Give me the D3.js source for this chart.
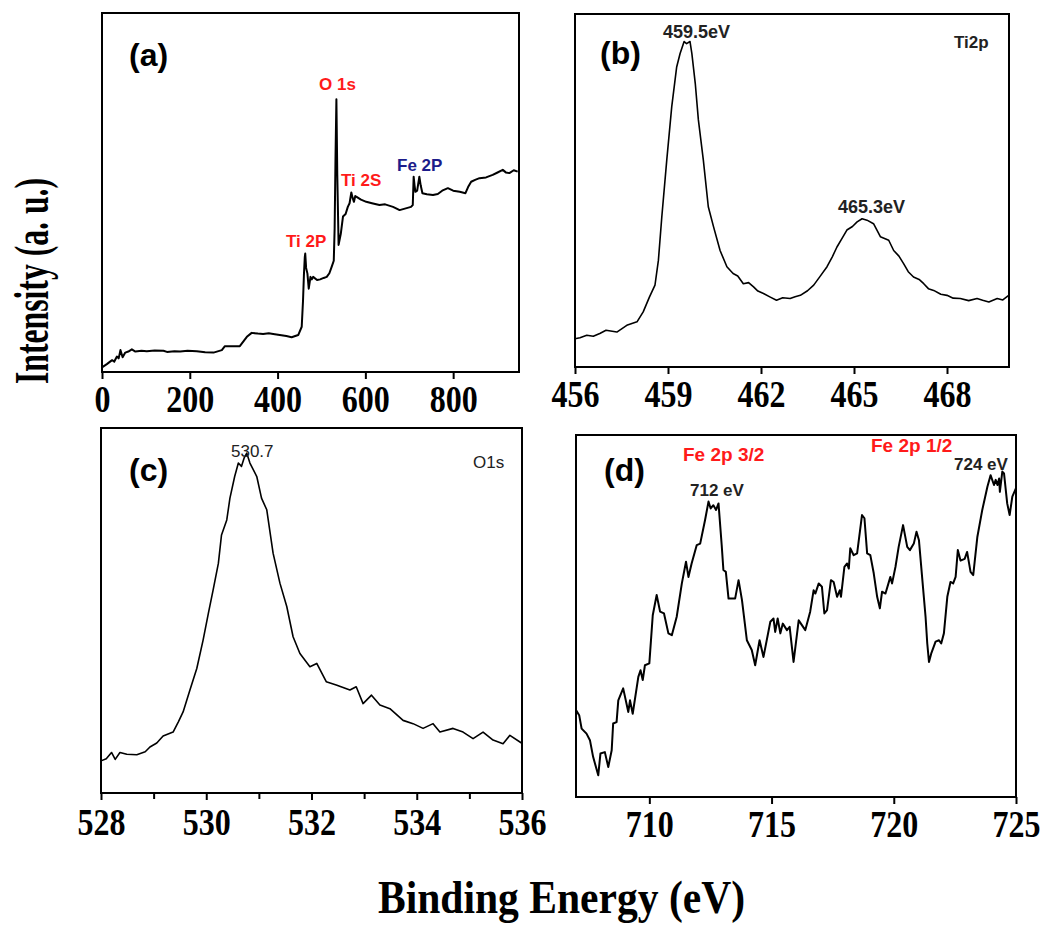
<!DOCTYPE html>
<html>
<head>
<meta charset="UTF-8">
<title>XPS spectra</title>
<script src="https://d3js.org/d3.v7.min.js"></script>
<style>
    body {margin: 0; background: white;}
    .frame {fill: none; stroke: black; stroke-width: 2;}
    .spec {fill: none; stroke: black; stroke-width: 1.8; stroke-linejoin: round;}
    .tick line {stroke: black; stroke-width: 2;}
    .domain {display: none;}
    .tick text {font-family: "Liberation Serif", "Times New Roman", serif; font-weight: bold; font-size: 37px; fill: black;}
    .big {font-family: "Liberation Serif", "Times New Roman", serif; font-weight: bold; fill: black;}
    .lab {font-family: "Liberation Sans", Arial, sans-serif; font-weight: bold;}
</style>
</head>
<body>
<div class="sh"></div>
<script>

    // (a) survey spectrum
    var surveyE = [0, 11, 23, 28, 34, 38, 42, 47, 53, 60, 68, 76, 90, 102, 120, 140, 148, 165, 178, 195, 216, 235, 254, 273, 280, 300, 314, 330, 341, 355, 367, 380, 390, 405, 420, 432, 447, 455, 458, 460, 462, 463, 465, 468, 471, 475, 478, 481, 490, 497, 505, 512, 518, 523, 528, 530, 532, 534, 536, 539, 544, 549, 555, 560, 564, 568, 571, 574, 577, 580, 590, 602, 615, 632, 645, 663, 670, 678, 690, 704, 708, 710, 712, 714, 718, 723, 726, 730, 740, 754, 765, 775, 788, 800, 815, 828, 834, 841, 850, 860, 875, 890, 900, 913, 920, 928, 938, 947];
    var surveyI = [1.3, 2.2, 3.3, 2.9, 4.3, 3.8, 6.1, 4.1, 5.4, 5.7, 6.3, 5.7, 5.9, 5.8, 6.0, 5.9, 5.6, 5.8, 5.7, 5.9, 5.8, 5.5, 5.4, 6.1, 7.2, 7.2, 7.2, 9.8, 10.9, 10.7, 10.6, 10.8, 10.6, 10.3, 10.0, 9.7, 10.3, 12.6, 20, 27, 32, 33, 29, 27.4, 23.2, 26.5, 25.8, 26.5, 25.6, 25.8, 26.2, 26.5, 27.5, 29.2, 31, 40, 60, 76, 55, 35.4, 38.5, 43.3, 44, 46, 47, 50, 48.5, 47.4, 49, 48.8, 48, 47.4, 47, 46.5, 46.7, 46, 45.6, 45.1, 45.5, 46, 46.5, 54.4, 52, 50.2, 50.5, 54.4, 52, 49.8, 49.5, 49.3, 49.6, 50.5, 51.2, 50.5, 50.2, 49.8, 51.5, 53, 53.5, 54, 54.2, 54.9, 55.5, 56.3, 55.6, 55.4, 56.2, 55.8];

    // (b) Ti 2p
    var ti2pE = [456.0, 456.16, 456.38, 456.59, 456.8, 457.0, 457.35, 457.67, 458.0, 458.2, 458.4, 458.58, 458.69, 458.8, 458.96, 459.12, 459.28, 459.39, 459.52, 459.6, 459.71, 459.77, 459.88, 459.98, 460.14, 460.3, 460.47, 460.68, 460.9, 461.1, 461.25, 461.43, 461.6, 461.76, 461.9, 462.08, 462.3, 462.5, 462.7, 462.94, 463.1, 463.27, 463.5, 463.7, 463.9, 464.13, 464.3, 464.45, 464.6, 464.77, 464.95, 465.1, 465.26, 465.42, 465.63, 465.85, 466.12, 466.28, 466.45, 466.6, 466.75, 466.92, 467.1, 467.25, 467.4, 467.57, 467.8, 468.0, 468.2, 468.43, 468.7, 468.97, 469.15, 469.35, 469.62, 469.8, 469.99];
    var ti2pI = [8.0, 8.3, 9.0, 8.7, 9.5, 10.4, 9.9, 11.8, 12.8, 15.6, 19.8, 23.2, 30.2, 42.5, 58.6, 73.7, 85, 88.8, 92.2, 91.6, 92.2, 88.8, 80.3, 70, 58.6, 45.4, 39.7, 33, 28.4, 26.5, 25.8, 23.6, 23.9, 22.7, 21.5, 20.8, 19.8, 18.9, 19.6, 19.4, 19.9, 20.3, 21.6, 23.2, 25.6, 28.4, 31.2, 34, 36.2, 38.8, 39.8, 41.1, 42, 41.6, 40.6, 36.9, 35.9, 33, 31.4, 29.3, 27.0, 25.5, 24.8, 23.6, 22.2, 21.7, 20.6, 20.3, 19.5, 19.4, 18.8, 19.4, 18.9, 18.4, 19.4, 19.0, 20.3];

    // (c) O 1s
    var o1sE = [528.0, 528.1, 528.2, 528.27, 528.36, 528.49, 528.68, 528.84, 528.93, 529.06, 529.18, 529.37, 529.47, 529.56, 529.69, 529.82, 529.94, 530.04, 530.13, 530.23, 530.29, 530.39, 530.45, 530.54, 530.61, 530.67, 530.72, 530.77, 530.83, 530.96, 531.05, 531.15, 531.27, 531.4, 531.53, 531.65, 531.78, 531.97, 532.1, 532.28, 532.47, 532.73, 532.85, 532.98, 533.14, 533.3, 533.49, 533.74, 533.93, 534.12, 534.31, 534.44, 534.69, 534.88, 535.07, 535.26, 535.45, 535.64, 535.77, 535.99];
    var o1sI = [8.8, 9.4, 11.1, 9.2, 11.1, 10.6, 10.5, 11.3, 12.6, 13.7, 15.6, 16.7, 19.5, 22.2, 28.2, 34.1, 41.9, 49.2, 55.6, 62.9, 70.7, 74.8, 80.8, 86.7, 90.4, 89.5, 91.8, 93.1, 90.4, 86.7, 80.8, 77.6, 65.7, 57.5, 51.1, 42.8, 38.2, 34.6, 35.5, 30.5, 29.6, 28.2, 29.1, 24.5, 26.8, 24.1, 23.1, 19.9, 19.0, 17.7, 19.0, 16.7, 17.7, 16.7, 14.9, 16.7, 14.5, 13.5, 15.8, 13.7];

    // (d) Fe 2p
    var fe2pE = [707.0, 707.13, 707.23, 707.43, 707.57, 707.7, 707.91, 708.0, 708.18, 708.32, 708.46, 708.52, 708.66, 708.73, 708.93, 709.14, 709.21, 709.32, 709.55, 709.64, 709.73, 709.82, 710.0, 710.14, 710.3, 710.44, 710.6, 710.78, 710.92, 711.12, 711.33, 711.5, 711.6, 711.73, 711.94, 712.08, 712.28, 712.42, 712.51, 712.62, 712.73, 712.83, 712.96, 713.03, 713.13, 713.24, 713.51, 713.65, 713.79, 713.99, 714.19, 714.33, 714.51, 714.67, 714.95, 715.08, 715.15, 715.25, 715.36, 715.46, 715.63, 715.74, 715.9, 716.11, 716.38, 716.58, 716.72, 716.79, 716.93, 717.06, 717.16, 717.27, 717.43, 717.54, 717.68, 717.79, 717.84, 717.98, 718.09, 718.16, 718.22, 718.36, 718.5, 718.7, 718.8, 718.91, 719.04, 719.18, 719.32, 719.43, 719.52, 719.66, 719.86, 719.93, 720.07, 720.2, 720.38, 720.55, 720.66, 720.82, 720.93, 721.03, 721.17, 721.3, 721.37, 721.44, 721.53, 721.71, 721.85, 721.94, 722.05, 722.19, 722.32, 722.43, 722.53, 722.62, 722.73, 722.9, 723.0, 723.14, 723.25, 723.42, 723.62, 723.83, 723.96, 724.1, 724.17, 724.24, 724.31, 724.34, 724.44, 724.51, 724.64, 724.74, 724.85, 725.0];
    var fe2pI = [24, 22.6, 18.9, 17.5, 15.7, 11.1, 6, 12, 12.4, 8.3, 12.9, 20.3, 20.7, 26.7, 30, 23.5, 26.7, 23, 33.2, 35, 32.3, 36.4, 36.9, 50.2, 55.8, 51.2, 50.7, 45.2, 44.7, 49.8, 59, 65, 60.8, 64.5, 69.6, 70, 76.5, 81.6, 79.7, 80.6, 79.3, 81.1, 69.6, 62.7, 62.2, 54.8, 54.8, 59.9, 54.4, 43.3, 40.6, 36.4, 43.3, 38.7, 48.4, 49.3, 45.6, 49.3, 45.2, 47.9, 46.1, 47, 37.3, 48.8, 46.1, 51.2, 57.1, 56.2, 59, 58.1, 50.7, 51.6, 59.9, 59.4, 55.3, 57.1, 55.3, 63.6, 64.5, 63.1, 68.7, 66.8, 67.3, 77.9, 77, 67.3, 66.8, 61.8, 55.3, 52.1, 56.7, 56.2, 60.8, 59, 63.6, 69.1, 75.1, 69.1, 68.2, 70, 73.3, 70.9, 59.9, 49.8, 42.4, 37.3, 39.6, 42.9, 43.3, 42.4, 45.2, 55.3, 59.4, 59, 60.8, 68.2, 65.3, 65.8, 67.7, 62.2, 61.3, 71.9, 79.3, 85.7, 88.9, 86.2, 87.6, 86.2, 88, 84.3, 89.9, 89.4, 81.1, 77.9, 83, 85.3];

    var ticksA = [0, 200, 400, 600, 800],
        ticksB = [456, 459, 462, 465, 468],
        ticksC = [528, 530, 532, 534, 536],
        minorC = [529, 531, 533, 535],
        ticksD = [710, 715, 720, 725];

    var svg = d3.select('.sh').append("svg")
        .attr("width", 1047)
        .attr("height", 930)
        .style("background", "white");

    // panel boxes (pixel frame), x domain, ticks, label baseline
    var panels = [
        {box: [102, 13, 519, 372], dom: [0, 950], E: surveyE, I: surveyI, ticks: ticksA, minor: [], base: 412, w: 2},
        {box: [575, 14, 1009, 367], dom: [456, 470], E: ti2pE, I: ti2pI, ticks: ticksB, minor: [], base: 407, w: 1.6},
        {box: [101, 428, 522, 793], dom: [528, 536], E: o1sE, I: o1sI, ticks: ticksC, minor: minorC, base: 835, w: 1.6},
        {box: [576, 435, 1016, 797], dom: [707, 725], E: fe2pE, I: fe2pI, ticks: ticksD, minor: [], base: 837, w: 2}
    ];

    panels.forEach(function(p) {
        var x = d3.scaleLinear().domain(p.dom).range([p.box[0], p.box[2]]);
        var y = d3.scaleLinear().domain([0, 100]).range([p.box[3], p.box[1]]);

        var pts = p.E.map(function(e, i) {return [e, p.I[i]];});
        svg.append("path")
            .datum(pts)
            .attr("class", "spec")
            .style("stroke-width", p.w)
            .attr("d", d3.line().x(function(d) {return x(d[0]);}).y(function(d) {return y(d[1]);}));

        var ax = svg.append("g")
            .attr("transform", "translate(0," + p.box[3] + ")")
            .call(d3.axisBottom(x).tickValues(p.ticks).tickSize(7).tickSizeOuter(0).tickPadding(4));
        ax.selectAll(".tick text")
            .attr("y", p.base - p.box[3])
            .attr("dy", 0)
            .attr("textLength", function(d) {return String(d).length * 16;})
            .attr("lengthAdjust", "spacingAndGlyphs");

        if (p.minor.length) {
            svg.append("g")
                .attr("transform", "translate(0," + p.box[3] + ")")
                .call(d3.axisBottom(x).tickValues(p.minor).tickSize(6).tickFormat(""));
        }

        svg.append("rect")
            .attr("class", "frame")
            .attr("x", p.box[0]).attr("y", p.box[1])
            .attr("width", p.box[2] - p.box[0])
            .attr("height", p.box[3] - p.box[1]);
    });

    // annotations
    var notes = [
        {t: "(a)", x: 129, y: 66, s: 32, c: "black"},
        {t: "(b)", x: 600, y: 64, s: 32, c: "black"},
        {t: "(c)", x: 129, y: 481, s: 32, c: "black"},
        {t: "(d)", x: 604, y: 481, s: 32, c: "black"},
        {t: "O 1s", x: 319, y: 90, s: 17, c: "#ff1a1a"},
        {t: "Ti 2P", x: 286, y: 247, s: 17, c: "#ff1a1a"},
        {t: "Ti 2S", x: 341, y: 186, s: 17, c: "#ff1a1a"},
        {t: "Fe 2P", x: 397, y: 171, s: 17, c: "#1c1c8a"},
        {t: "459.5eV", x: 663, y: 38, s: 18, c: "#222"},
        {t: "465.3eV", x: 838, y: 213, s: 18, c: "#222"},
        {t: "Ti2p", x: 954, y: 48, s: 17, c: "#222"},
        {t: "530.7", x: 231, y: 457, s: 17, c: "#222", n: true},
        {t: "O1s", x: 473, y: 468, s: 17, c: "#222", n: true},
        {t: "Fe 2p 3/2", x: 683, y: 461, s: 19, c: "#ff1a1a"},
        {t: "712 eV", x: 690, y: 496, s: 17, c: "#222"},
        {t: "Fe 2p 1/2", x: 871, y: 452, s: 19, c: "#ff1a1a"},
        {t: "724 eV", x: 954, y: 470, s: 17, c: "#222"}
    ];

    svg.selectAll("text.lab")
        .data(notes)
        .enter().append("text")
        .attr("class", "lab")
        .attr("x", function(d) {return d.x;})
        .attr("y", function(d) {return d.y;})
        .style("font-size", function(d) {return d.s + "px";})
        .style("font-weight", function(d) {return d.n ? "normal" : "bold";})
        .style("fill", function(d) {return d.c;})
        .text(function(d) {return d.t;});

    // axis titles
    svg.append("text")
        .attr("class", "big")
        .attr("x", 378).attr("y", 913)
        .attr("textLength", 367)
        .attr("lengthAdjust", "spacingAndGlyphs")
        .style("font-size", "46px")
        .text("Binding Energy (eV)");

    svg.append("text")
        .attr("class", "big")
        .attr("transform", "translate(48,384) rotate(-90)")
        .attr("textLength", 206)
        .attr("lengthAdjust", "spacingAndGlyphs")
        .style("font-size", "48px")
        .text("Intensity (a. u.)");

</script>
</body>
</html>
